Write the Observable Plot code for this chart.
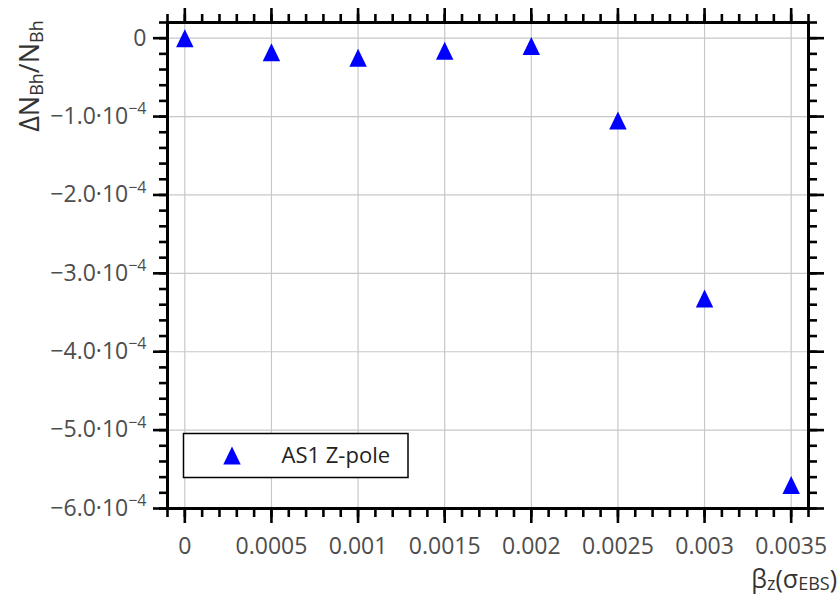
<!DOCTYPE html>
<html><head><meta charset="utf-8">
<script src="https://cdn.jsdelivr.net/npm/d3@7"></script>
<script src="https://cdn.jsdelivr.net/npm/@observablehq/plot@0.6"></script>
<style>body{margin:0;background:#fff;} svg{display:block;}</style>
</head><body><div id="chart"></div>
<script>
// ---- data ----
const betaZ = [0, 0.0005, 0.001, 0.0015, 0.002, 0.0025, 0.003, 0.0035];
const deltaN = [0, -0.18e-4, -0.25e-4, -0.16e-4, -0.10e-4, -1.05e-4, -3.32e-4, -5.70e-4];
const seriesName = "AS1 Z-pole";
const xMajorTicks = [0, 0.0005, 0.001, 0.0015, 0.002, 0.0025, 0.003, 0.0035];
const xTickLabels = ["0", "0.0005", "0.001", "0.0015", "0.002", "0.0025", "0.003", "0.0035"];
const xMinorTicks = d3.range(-1, 37).map(i => i * 0.0001);
const yMajorTicks = [0, -1e-4, -2e-4, -3e-4, -4e-4, -5e-4, -6e-4];
const yTickMantissa = ["0", "−1.0·10", "−2.0·10", "−3.0·10", "−4.0·10", "−5.0·10", "−6.0·10"];
const yTickExponent = ["", "−4", "−4", "−4", "−4", "−4", "−4"];
const yMinorTicks = d3.range(-30, 2).map(i => i * 0.2e-4);

const data = betaZ.map((x, i) => ({x, y: deltaN[i]}));

const tri = {
  draw(context, size) {
    const a = Math.sqrt(size / Math.PI);
    context.moveTo(0, -a);
    context.lineTo(a * 0.97, a);
    context.lineTo(-a * 0.97, a);
    context.closePath();
  }
};

const labelColor = "#4d4d4d";
const tickW = 2.6;

const chart = Plot.plot({
  width: 839,
  height: 598,
  marginLeft: 167,
  marginRight: 31,
  marginTop: 22,
  marginBottom: 90,
  style: {fontFamily: "'Open Sans', 'Noto Sans', sans-serif", background: "white"},
  x: {domain: [-0.0001, 0.0036]},
  y: {domain: [-6e-4, 0.2e-4]},
  marks: [
    Plot.gridX(xMajorTicks, {stroke: "#c8c8c8", strokeOpacity: 1, strokeWidth: 1.2}),
    Plot.gridY(yMajorTicks, {stroke: "#c8c8c8", strokeOpacity: 1, strokeWidth: 1.2}),
    // bottom
    Plot.axisX(xMajorTicks, {anchor: "bottom", tickSize: 15, tickPadding: 14, strokeWidth: tickW, stroke: "black", fill: labelColor, fontSize: 23, label: null,
      tickFormat: d => xTickLabels[xMajorTicks.indexOf(d)]}),
    Plot.axisX(xMinorTicks, {anchor: "bottom", tickSize: 9, strokeWidth: tickW, stroke: "black", text: null, label: null}),
    // top
    Plot.axisX(xMajorTicks, {anchor: "top", tickSize: 15, strokeWidth: tickW, stroke: "black", text: null, label: null}),
    Plot.axisX(xMinorTicks, {anchor: "top", tickSize: 9, strokeWidth: tickW, stroke: "black", text: null, label: null}),
    // left
    Plot.axisY(yMajorTicks, {anchor: "left", tickSize: 14, tickPadding: 7, strokeWidth: tickW, stroke: "black", fill: labelColor, fontSize: 23, label: null,
      tickFormat: d => { const i = yMajorTicks.indexOf(d); return yTickMantissa[i] + "|" + yTickExponent[i]; }}),
    Plot.axisY(yMinorTicks, {anchor: "left", tickSize: 8, strokeWidth: tickW, stroke: "black", text: null, label: null}),
    // right
    Plot.axisY(yMajorTicks, {anchor: "right", tickSize: 15, strokeWidth: tickW, stroke: "black", text: null, label: null}),
    Plot.axisY(yMinorTicks, {anchor: "right", tickSize: 8, strokeWidth: tickW, stroke: "black", text: null, label: null}),
    Plot.frame({stroke: "black", strokeWidth: 3}),
    Plot.dot(data, {x: "x", y: "y", r: 9, symbol: tri, fill: "#0000ff", stroke: null})
  ]
});

document.getElementById("chart").appendChild(chart);
const svg = d3.select(chart);

// superscripts in y tick labels
svg.selectAll('g[aria-label="y-axis tick label"] text').each(function() {
  const t = d3.select(this);
  const s = t.text();
  const [m, e] = s.split("|");
  t.text(null);
  t.append("tspan").text(m);
  if (e) t.append("tspan").attr("font-size", 16).attr("dy", "-0.6em").text(e);
});

// y axis title
const yt = svg.append("text")
  .attr("transform", "translate(39,76) rotate(-90)")
  .attr("text-anchor", "middle")
  .attr("font-size", 27)
  .attr("fill", "#333")
  .attr("font-family", "'Open Sans', sans-serif");
yt.append("tspan").text("ΔN");
yt.append("tspan").attr("font-size", 18).attr("dy", 4).text("Bh");
yt.append("tspan").attr("dy", -4).text("/N");
yt.append("tspan").attr("font-size", 18).attr("dy", 4).text("Bh");

// x axis title
const xt = svg.append("text")
  .attr("x", 837).attr("y", 588)
  .attr("text-anchor", "end")
  .attr("font-size", 25)
  .attr("fill", "#333")
  .attr("font-family", "'Open Sans', sans-serif");
xt.append("tspan").text("β");
xt.append("tspan").attr("font-size", 18).attr("dy", 2).text("z");
xt.append("tspan").attr("dy", -2).text("(σ");
xt.append("tspan").attr("font-size", 18).attr("dy", 2).text("EBS");
xt.append("tspan").attr("dy", -2).text(")");

// legend
const lg = svg.append("g");
lg.append("rect").attr("x", 183.5).attr("y", 433.5).attr("width", 224.5).attr("height", 44)
  .attr("fill", "white").attr("stroke", "black").attr("stroke-width", 1.5);
lg.append("path").attr("transform", "translate(232,455.5)")
  .attr("d", d3.symbol(tri, Math.PI * 81)()).attr("fill", "#0000ff");
lg.append("text").attr("x", 281.5).attr("y", 462.7).attr("font-size", 22).attr("fill", "#222")
  .attr("text-anchor", "start")
  .attr("font-family", "'Open Sans', sans-serif").text(seriesName);
</script>
</body></html>
